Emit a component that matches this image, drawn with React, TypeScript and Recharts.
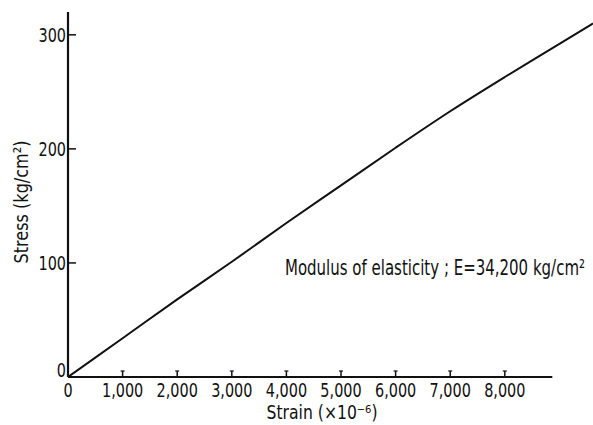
import React from "react";
import { LineChart, Line, XAxis, YAxis, ReferenceLine, Label } from "recharts";

const strain = [0, 1000, 2000, 3000, 4000, 5000, 6000, 7000, 8000, 9000, 9615];
const stress = [0, 34, 68, 101, 135, 168, 201, 233, 263, 292, 310];
const xTicks = [0, 1000, 2000, 3000, 4000, 5000, 6000, 7000, 8000];
const yTicks = [0, 100, 200, 300];
const xAxisEnd = 8870;

const xTitle = "Strain (×10⁻⁶)";
const yTitle = "Stress (kg/cm²)";
const note = "Modulus of elasticity ; E=34,200 kg/cm²";

const data = strain.map((s, i) => ({ strain: s, stress: stress[i] }));

const FONT = "'DejaVu Sans', sans-serif";
const SX = 0.76;

const fmt = (v: number) => (v === 0 ? "0" : v.toLocaleString("en-US"));

const XTick = (props: any) => {
  const { x, y, payload } = props;
  const v = payload.value;
  return (
    <g>
      <text
        transform={`translate(${x},${y + 20}) scale(${SX},1)`}
        textAnchor="middle"
        fontFamily={FONT}
        fontSize={19}
        fill="#111"
      >
        {fmt(v)}
      </text>
      {v > 0 && <line x1={x} x2={x} y1={y - 6} y2={y} stroke="#111" strokeWidth={1.5} />}
      {v > 0 && <line x1={x - 2} x2={x + 2} y1={y - 6} y2={y - 6} stroke="#111" strokeWidth={1.2} />}
    </g>
  );
};

const YTick = (props: any) => {
  const { x, y, payload } = props;
  const v = payload.value;
  return (
    <g>
      <text
        transform={`translate(${x - 2},${v === 0 ? y : y + 7}) scale(${SX},1)`}
        textAnchor="end"
        fontFamily={FONT}
        fontSize={19}
        fill="#111"
      >
        {v}
      </text>
      {v > 0 && <line x1={x} x2={x + 8} y1={y} y2={y} stroke="#111" strokeWidth={1.5} />}
    </g>
  );
};

const XTitle = (props: any) => {
  const vb = props.viewBox || {};
  const cx = vb.x + 254;
  const by = 419;
  return (
    <text x={cx} y={by} textAnchor="middle" fontFamily={FONT} fontSize={19} fill="#111" textLength={111} lengthAdjust="spacingAndGlyphs">
      {xTitle}
    </text>
  );
};

const YTitle = () => (
  <text
    transform="translate(22,202) rotate(-90)"
    x={0}
    y={6}
    textAnchor="middle"
    fontFamily={FONT}
    fontSize={20}
    fill="#111"
    textLength={123}
    lengthAdjust="spacingAndGlyphs"
  >
    {yTitle}
  </text>
);

export default function App() {
  return (
    <div style={{ position: "absolute", left: 0, top: 0, width: 593, height: 425, background: "#fff" }}>
      <LineChart width={593} height={425} data={data} margin={{ top: 12, right: 0, bottom: 0, left: 8 }}>
        <XAxis
          dataKey="strain"
          type="number"
          domain={[0, 9615]}
          ticks={xTicks}
          interval={0}
          axisLine={false}
          tickLine={false}
          tickSize={0}
          tickMargin={0}
          height={48}
          tick={<XTick />}
          allowDataOverflow
        >
          <Label content={<XTitle />} />
        </XAxis>
        <YAxis
          type="number"
          domain={[0, 320]}
          ticks={yTicks}
          interval={0}
          axisLine={{ stroke: "#111", strokeWidth: 2.2 }}
          tickLine={false}
          tickSize={0}
          tickMargin={0}
          width={60}
          tick={<YTick />}
          allowDataOverflow
        >
          <Label content={<YTitle />} />
        </YAxis>
        <ReferenceLine
          segment={[
            { x: 0, y: 0 },
            { x: xAxisEnd, y: 0 },
          ]}
          stroke="#111"
          strokeWidth={2.2}
        />
        <Line
          type="monotone"
          dataKey="stress"
          stroke="#111"
          strokeWidth={2}
          dot={false}
          isAnimationActive={false}
        />
      </LineChart>
      <svg width={593} height={425} style={{ position: "absolute", left: 0, top: 0, pointerEvents: "none" }}>
        <text
          x={285}
          y={275}
          fontFamily={FONT}
          fontSize={21}
          fill="#111"
          textLength={300}
          lengthAdjust="spacingAndGlyphs"
        >
          {note}
        </text>
      </svg>
    </div>
  );
}
